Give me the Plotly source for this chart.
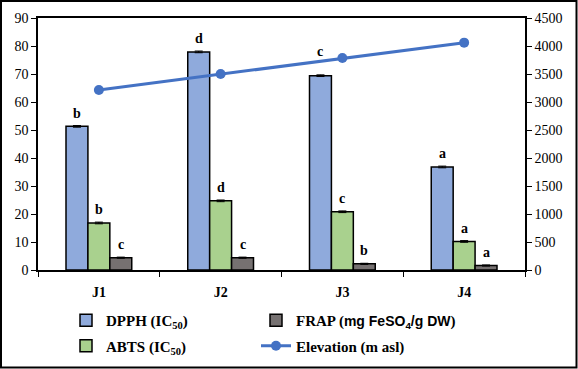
import plotly.graph_objects as go

categories = ["J1", "J2", "J3", "J4"]
dpph = [51.3, 77.9, 69.4, 36.8]
abts = [16.8, 24.7, 20.8, 10.2]
frap = [4.4, 4.4, 2.2, 1.6]
elevation = [3215, 3500, 3785, 4060]
dpph_err = [0.3, 0.3, 0.3, 0.3]
abts_err = [0.3, 0.3, 0.3, 0.3]
frap_err = [0.2, 0.2, 0.2, 0.2]
dpph_letters = ["b", "d", "c", "a"]
abts_letters = ["b", "d", "c", "a"]
frap_letters = ["c", "c", "b", "a"]

W, H = 578, 369
ML, MR, MT, MB = 38, 53, 18, 99
serif = "Liberation Serif"
blue, green, grey, line = "#8FAADC", "#A9D18E", "#767171", "#4472C4"

pw, ph = W - ML - MR, H - MT - MB
def px(x):
    return (x - ML) / pw
def py(y):
    return (MT + ph - y) / ph

fig = go.Figure()
series = [
    ("<b>DPPH (IC<sub>50</sub>)</b>", dpph, dpph_err, blue, "legend"),
    ("<b>ABTS (IC<sub>50</sub>)</b>", abts, abts_err, green, "legend"),
    ("<b>FRAP (<span style='font-family:Liberation Sans;font-size:14px'>mg FeSO<sub>4</sub>/g DW</span>)</b>", frap, frap_err, grey, "legend2"),
]
for k, (name, vals, err, col, lg) in enumerate(series):
    fig.add_trace(go.Bar(
        x=categories, y=vals, name=name, legend=lg, legendgroup=f"g{k}",
        marker=dict(color=col, line=dict(color="black", width=1.5)),
        error_y=dict(type="data", array=err, color="black", thickness=1, width=4),
    ))
fig.add_trace(go.Scatter(
    x=categories, y=elevation, name="<b>Elevation (m asl)</b>", yaxis="y2", legend="legend2",
    legendgroup="g3",
    mode="lines+markers", line=dict(color=line, width=3), marker=dict(color=line, size=10),
))

bargap = 0.46
bw = (1 - bargap) / 3
letter_shift = {("dpph", 2): 24}
for j, (key, vals, lets) in enumerate([("dpph", dpph, dpph_letters), ("abts", abts, abts_letters), ("frap", frap, frap_letters)]):
    for i, (v, l) in enumerate(zip(vals, lets)):
        fig.add_annotation(x=i + (j - 1) * bw, y=v, xref="x", yref="y", text=f"<b>{l}</b>",
                           showarrow=False, yshift=letter_shift.get((key, i), 13),
                           font=dict(family=serif, size=14, color="black"))

# outer border
fig.add_shape(type="rect", xref="paper", yref="paper",
              x0=px(1), x1=px(W - 1.5), y0=py(H - 1.5), y1=py(1),
              line=dict(color="black", width=2), layer="below")

fig.update_layout(
    width=W, height=H, margin=dict(l=ML, r=MR, t=MT, b=MB, autoexpand=False),
    paper_bgcolor="white", plot_bgcolor="white",
    barmode="group", bargap=bargap, bargroupgap=0,
    font=dict(family=serif, size=13, color="black"),
    xaxis=dict(type="category", tickson="boundaries", ticks="outside", ticklen=5, tickcolor="black",
               showline=True, linecolor="black", linewidth=1.5, mirror=True,
               tickfont=dict(family=serif, size=14), ticklabelstandoff=8,
               tickvals=categories, ticktext=[f"<b>{c}</b>" for c in categories]),
    yaxis=dict(range=[0, 90], dtick=10, ticks="outside", ticklen=5, tickcolor="black",
               showline=True, linecolor="black", linewidth=1.5, showgrid=False, zeroline=False,
               tickfont=dict(family=serif, size=14)),
    yaxis2=dict(range=[0, 4500], dtick=500, overlaying="y", side="right", ticks="outside", ticklen=5,
                tickcolor="black", showline=True, linecolor="black", linewidth=1.5, showgrid=False,
                zeroline=False, tickfont=dict(family=serif, size=14)),
    legend=dict(x=px(66), y=py(304), xanchor="left", yanchor="top",
                font=dict(family=serif, size=15), bgcolor="rgba(0,0,0,0)", tracegroupgap=3),
    legend2=dict(x=px(256), y=py(304), xanchor="left", yanchor="top",
                 font=dict(family=serif, size=15), bgcolor="rgba(0,0,0,0)", tracegroupgap=3),
    showlegend=True,
)
fig.write_html("out.html", post_script="document.body.style.margin='0';",
               config={"displayModeBar": False})
